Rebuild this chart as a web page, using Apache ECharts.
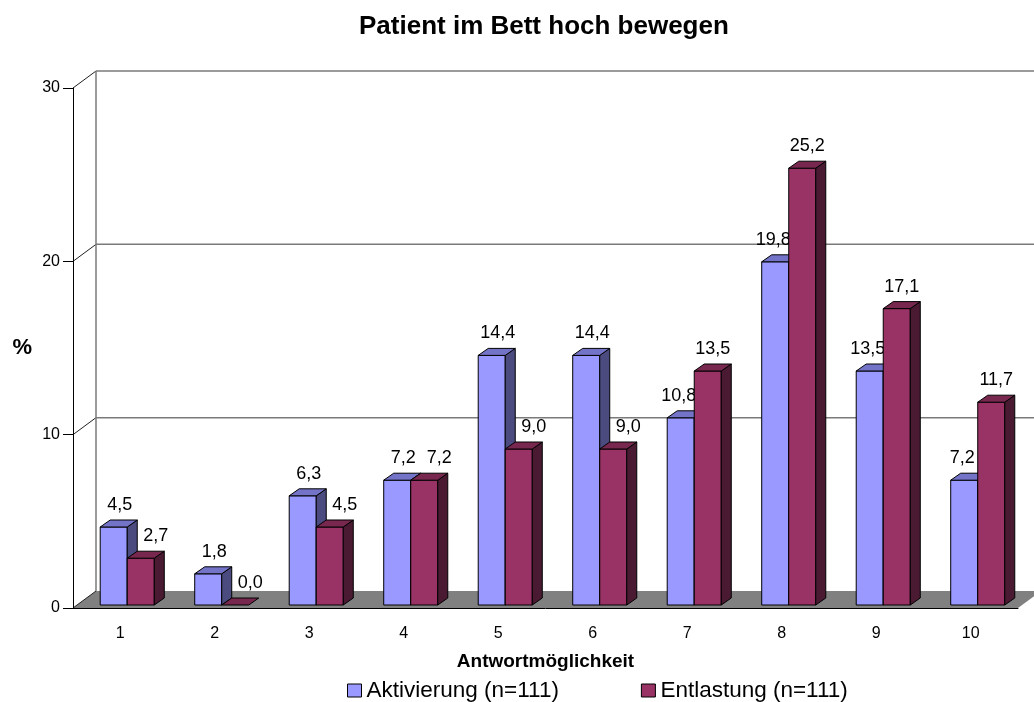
<!DOCTYPE html>
<html>
<head>
<meta charset="utf-8">
<title>Patient im Bett hoch bewegen</title>
<script src="https://cdn.jsdelivr.net/npm/echarts@6/dist/echarts.min.js"></script>
<style>
  html, body { margin: 0; padding: 0; background: #fff; }
  #chart { width: 1034px; height: 702px; }
</style>
</head>
<body>
<div id="chart"></div>
<script>
const categories = ['1', '2', '3', '4', '5', '6', '7', '8', '9', '10']
const aktivierung = [4.5, 1.8, 6.3, 7.2, 14.4, 14.4, 10.8, 19.8, 13.5, 7.2]
const entlastung = [2.7, 0.0, 4.5, 7.2, 9.0, 9.0, 13.5, 25.2, 17.1, 11.7]
const yTicks = [0, 10, 20, 30]
const seriesNames = ['Aktivierung (n=111)', 'Entlastung (n=111)']

const FONT = '"Liberation Sans", Arial, sans-serif'

// depth of the chart box and of the bars (px)
const WALL_DX = 23, WALL_DY = -17
const BAR_DX = 10, BAR_DY = -7

const blueColors = { front: '#9999ff', top: '#7373c8', side: '#4b4b80' }
const redColors = { front: '#993366', top: '#78284f', side: '#4a1a33' }

const fmt = v => v.toFixed(1).replace('.', ',')

const frameItem = (params, api) => {
  const cs = params.coordSys
  const x0 = cs.x
  const x1 = cs.x + cs.width
  const yFloor = api.coord([0, 0])[1]
  const yTop = api.coord([0, yTicks[yTicks.length - 1]])[1]
  const children = []

  children.push({
    type: 'polygon',
    shape: { points: [[x0, yFloor], [x1, yFloor], [x1 + WALL_DX, yFloor + WALL_DY], [x0 + WALL_DX, yFloor + WALL_DY]] },
    style: { fill: '#808080' }
  })

  yTicks.forEach(t => {
    const y = api.coord([0, t])[1]
    if (t > 0) {
      children.push({
        type: 'line',
        shape: { x1: x0 + WALL_DX, y1: y + WALL_DY, x2: x1 + WALL_DX, y2: y + WALL_DY },
        style: { stroke: '#7a7a7a', lineWidth: 1.5 }
      })
    }
    children.push({
      type: 'line',
      shape: { x1: x0, y1: y, x2: x0 + WALL_DX, y2: y + WALL_DY },
      style: { stroke: '#222', lineWidth: 1 }
    })
  })

  children.push({
    type: 'line',
    shape: { x1: x0 + WALL_DX, y1: yTop + WALL_DY, x2: x0 + WALL_DX, y2: yFloor + WALL_DY },
    style: { stroke: '#7a7a7a', lineWidth: 1.5 }
  })

  return { type: 'group', children }
}

const makeBarItem = (isBlue, colors) => (params, api) => {
  const i = api.value(0)
  const v = api.value(1)
  const band = api.size([1, 0])[0]
  const cx = api.coord([i, 0])[0]
  const yb = api.coord([i, 0])[1] - 3
  const yt = api.coord([i, v])[1] - 3
  const w = band * 0.286
  const xl = cx - band * 0.212 + (isBlue ? 0 : w)
  const xr = xl + w

  const redTaller = entlastung[i] > aktivierung[i]
  let lx
  if (isBlue) lx = (xl + xr) / 2 + (redTaller ? -2 : 6)
  else lx = (xl + xr) / 2 + (redTaller ? 5 : 15)

  const children = []
  if (v > 0) {
    children.push({
      type: 'polygon',
      shape: { points: [[xl, yb], [xr, yb], [xr, yt], [xl, yt]] },
      style: { fill: colors.front, stroke: '#000', lineWidth: 1 }
    })
    children.push({
      type: 'polygon',
      shape: { points: [[xr, yb], [xr + BAR_DX, yb + BAR_DY], [xr + BAR_DX, yt + BAR_DY], [xr, yt]] },
      style: { fill: colors.side, stroke: '#000', lineWidth: 1 }
    })
  }
  children.push({
    type: 'polygon',
    shape: { points: [[xl, yt], [xr, yt], [xr + BAR_DX, yt + BAR_DY], [xl + BAR_DX, yt + BAR_DY]] },
    style: { fill: colors.top, stroke: '#000', lineWidth: 1 }
  })
  children.push({
    type: 'text',
    style: {
      text: fmt(v),
      x: lx,
      y: yt - 22,
      align: 'center',
      verticalAlign: 'middle',
      textAlign: 'center',
      textVerticalAlign: 'middle',
      font: '18px ' + FONT,
      fill: '#000'
    }
  })
  return { type: 'group', children }
}

const chart = echarts.init(document.getElementById('chart'))

const option = {
  backgroundColor: '#fff',
  animation: false,
  textStyle: { fontFamily: FONT, color: '#000' },
  title: {
    text: 'Patient im Bett hoch bewegen',
    left: 359,
    top: 14,
    padding: 0,
    textStyle: { fontFamily: FONT, fontSize: 26, fontWeight: 'bold', color: '#000' }
  },
  legend: {
    data: seriesNames,
    left: 347,
    top: 679,
    padding: 0,
    icon: 'rect',
    itemWidth: 14,
    itemHeight: 13,
    itemGap: 82,
    itemStyle: { borderColor: '#000', borderWidth: 1 },
    textStyle: { fontFamily: FONT, fontSize: 22.5, color: '#000' }
  },
  grid: {
    left: 73,
    right: 16,
    top: 88,
    bottom: 94,
    containLabel: false,
    outerBoundsMode: 'none'
  },
  xAxis: {
    type: 'category',
    data: categories,
    z: 10,
    name: 'Antwortmöglichkeit',
    nameLocation: 'middle',
    nameGap: 44,
    nameTextStyle: { fontFamily: FONT, fontSize: 19, fontWeight: 'bold', color: '#000' },
    axisLine: { lineStyle: { color: '#000', width: 1 } },
    axisTick: { length: 9, lineStyle: { color: '#000' } },
    axisLabel: { fontFamily: FONT, fontSize: 16, color: '#000', margin: 18 },
    splitLine: { show: false }
  },
  yAxis: {
    type: 'value',
    min: 0,
    max: 30,
    interval: 10,
    z: 10,
    name: '%',
    nameLocation: 'middle',
    nameRotate: 0,
    nameGap: 41,
    nameTextStyle: { fontFamily: FONT, fontSize: 22, fontWeight: 'bold', color: '#000' },
    axisLine: { show: true, lineStyle: { color: '#000', width: 1 } },
    axisTick: { show: true, length: 10, lineStyle: { color: '#000' } },
    axisLabel: { fontFamily: FONT, fontSize: 16, color: '#000', margin: 13 },
    splitLine: { show: false }
  },
  series: [
    {
      name: 'frame',
      type: 'custom',
      z: 1,
      silent: true,
      renderItem: frameItem,
      data: [[0, 0]]
    },
    {
      name: seriesNames[0],
      type: 'custom',
      z: 2,
      itemStyle: { color: blueColors.front },
      renderItem: makeBarItem(true, blueColors),
      encode: { x: 0, y: 1 },
      data: aktivierung.map((v, i) => [i, v])
    },
    {
      name: seriesNames[1],
      type: 'custom',
      z: 3,
      itemStyle: { color: redColors.front },
      renderItem: makeBarItem(false, redColors),
      encode: { x: 0, y: 1 },
      data: entlastung.map((v, i) => [i, v])
    }
  ]
}

chart.setOption(option)

window.addEventListener('resize', () => {
  chart.resize()
})
</script>
</body>
</html>
